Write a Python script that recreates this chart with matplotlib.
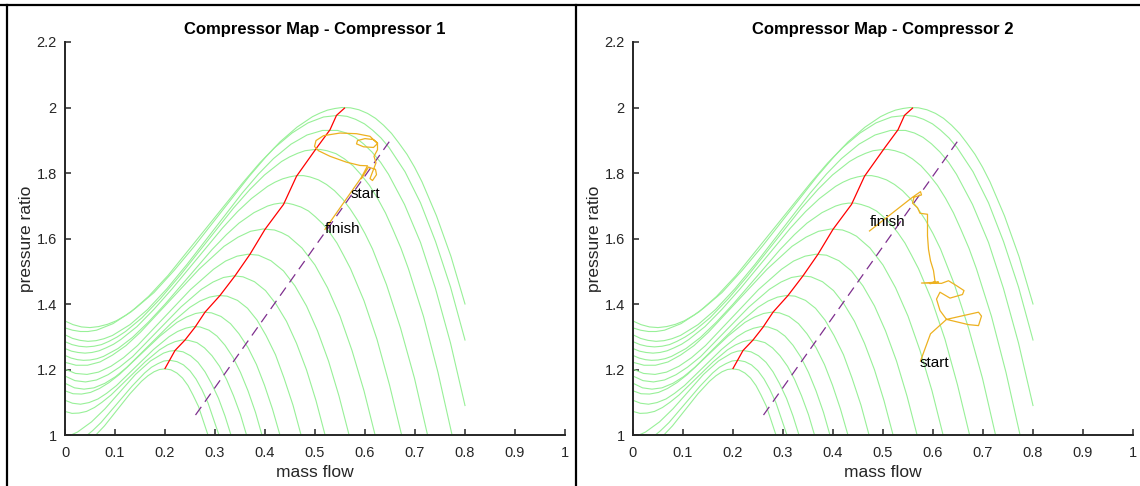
import numpy as np
import matplotlib
matplotlib.use("Agg")
import matplotlib.pyplot as plt
from matplotlib.lines import Line2D

plt.rcParams["font.family"] = ["Liberation Sans", "DejaVu Sans"]

# speed lines of the map (mass flow, pressure ratio), top speed first
speed_flow = [
    [0, .016, .033, .050, .067, .085, .103, .122, .141, .178, .218, .259, .368, .401, .430, .464, .495, .510, .525, .540, .554, .571, .588, .605, .621, .637, .653, .668, .684, .699, .714, .743, .772, .800],
    [0, .015, .031, .046, .063, .096, .132, .167, .206, .356, .389, .419, .454, .486, .517, .546, .564, .581, .599, .615, .632, .648, .680, .711, .741, .771, .800],
    [0, .015, .030, .046, .062, .078, .095, .130, .165, .204, .244, .354, .387, .417, .452, .484, .515, .545, .563, .580, .597, .614, .631, .647, .679, .711, .741, .771, .800],
    [0, .014, .028, .043, .058, .073, .088, .104, .121, .154, .191, .230, .337, .370, .399, .433, .449, .465, .480, .495, .510, .524, .542, .559, .576, .592, .609, .625, .641, .656, .672, .687, .717, .746, .775],
    [0, .013, .026, .040, .054, .068, .082, .097, .112, .144, .178, .214, .315, .345, .373, .405, .420, .435, .449, .463, .477, .490, .507, .523, .539, .555, .570, .585, .600, .615, .643, .671, .699, .726],
    [0, .012, .025, .037, .050, .064, .077, .106, .135, .167, .201, .294, .323, .348, .378, .405, .418, .431, .444, .456, .472, .487, .501, .516, .530, .544, .557, .571, .598, .624, .649, .674],
    [0, .022, .045, .070, .095, .122, .151, .268, .318, .346, .371, .396, .419, .433, .447, .474, .500, .525, .550, .574, .598, .621],
    [0, .021, .044, .067, .092, .117, .145, .251, .297, .321, .344, .366, .387, .412, .437, .460, .483, .505, .527, .548, .569],
    [0, .020, .041, .063, .086, .109, .135, .232, .273, .296, .317, .337, .356, .379, .401, .422, .443, .463, .483, .502, .521],
    [0, .019, .038, .058, .080, .101, .124, .213, .250, .270, .289, .307, .324, .345, .365, .384, .402, .421, .438, .456, .473],
    [0, .016, .033, .051, .069, .088, .109, .190, .224, .243, .261, .277, .293, .312, .331, .348, .366, .383, .399, .415, .431],
    [0, .015, .031, .048, .066, .083, .103, .177, .208, .225, .241, .256, .270, .288, .304, .320, .336, .351, .366, .381, .395],
    [0, .014, .028, .043, .059, .074, .092, .160, .189, .205, .220, .234, .247, .264, .279, .294, .309, .323, .337, .351, .364],
    [0, .012, .025, .053, .080, .141, .171, .197, .209, .220, .236, .251, .266, .280, .293, .307, .320, .333],
    [.040, .055, .072, .134, .159, .173, .186, .198, .210, .224, .237, .250, .262, .274, .286, .309],
    [.058, .079, .130, .153, .166, .178, .189, .200, .212, .224, .235, .246, .256, .267, .287],
]
speed_ratio = [
    [1.348, 1.337, 1.330, 1.328, 1.331, 1.338, 1.349, 1.366, 1.387, 1.435, 1.502, 1.577, 1.789, 1.848, 1.895, 1.940, 1.972, 1.983, 1.992, 1.997, 2.000, 1.999, 1.993, 1.982, 1.967, 1.946, 1.921, 1.891, 1.857, 1.818, 1.773, 1.669, 1.545, 1.400],
    [1.327, 1.320, 1.316, 1.316, 1.320, 1.340, 1.376, 1.423, 1.487, 1.771, 1.830, 1.877, 1.922, 1.953, 1.971, 1.976, 1.973, 1.964, 1.950, 1.931, 1.907, 1.878, 1.804, 1.709, 1.591, 1.452, 1.290],
    [1.306, 1.295, 1.289, 1.286, 1.288, 1.294, 1.304, 1.337, 1.383, 1.447, 1.521, 1.738, 1.797, 1.844, 1.888, 1.916, 1.930, 1.930, 1.922, 1.909, 1.889, 1.864, 1.833, 1.796, 1.704, 1.588, 1.447, 1.281, 1.090],
    [1.285, 1.276, 1.271, 1.269, 1.271, 1.276, 1.286, 1.299, 1.316, 1.358, 1.417, 1.487, 1.693, 1.750, 1.794, 1.835, 1.849, 1.860, 1.868, 1.871, 1.872, 1.868, 1.859, 1.843, 1.822, 1.795, 1.762, 1.723, 1.678, 1.627, 1.570, 1.507, 1.362, 1.191, 0.994],
    [1.264, 1.256, 1.252, 1.250, 1.252, 1.257, 1.266, 1.277, 1.292, 1.331, 1.384, 1.446, 1.632, 1.682, 1.722, 1.759, 1.772, 1.782, 1.788, 1.792, 1.792, 1.788, 1.779, 1.765, 1.746, 1.721, 1.691, 1.656, 1.615, 1.568, 1.459, 1.327, 1.173, 0.994],
    [1.243, 1.235, 1.230, 1.228, 1.229, 1.233, 1.240, 1.264, 1.298, 1.345, 1.401, 1.566, 1.612, 1.647, 1.679, 1.699, 1.705, 1.708, 1.708, 1.704, 1.696, 1.684, 1.666, 1.644, 1.617, 1.586, 1.549, 1.508, 1.410, 1.292, 1.153, 0.995],
    [1.222, 1.213, 1.213, 1.223, 1.244, 1.273, 1.314, 1.506, 1.576, 1.604, 1.622, 1.629, 1.626, 1.618, 1.607, 1.571, 1.519, 1.450, 1.363, 1.258, 1.135, 0.995],
    [1.201, 1.188, 1.185, 1.192, 1.210, 1.236, 1.273, 1.444, 1.506, 1.531, 1.546, 1.552, 1.549, 1.532, 1.501, 1.455, 1.394, 1.318, 1.226, 1.119, 0.995],
    [1.180, 1.166, 1.162, 1.168, 1.184, 1.207, 1.239, 1.391, 1.445, 1.467, 1.481, 1.486, 1.483, 1.468, 1.441, 1.400, 1.347, 1.280, 1.199, 1.105, 0.995],
    [1.158, 1.144, 1.140, 1.144, 1.158, 1.178, 1.207, 1.342, 1.390, 1.409, 1.421, 1.426, 1.424, 1.411, 1.387, 1.351, 1.304, 1.245, 1.174, 1.091, 0.995],
    [1.135, 1.126, 1.125, 1.130, 1.142, 1.160, 1.185, 1.302, 1.344, 1.360, 1.371, 1.375, 1.373, 1.362, 1.340, 1.309, 1.267, 1.215, 1.152, 1.079, 0.994],
    [1.106, 1.097, 1.094, 1.099, 1.110, 1.127, 1.151, 1.261, 1.300, 1.316, 1.326, 1.331, 1.330, 1.320, 1.302, 1.274, 1.237, 1.191, 1.135, 1.069, 0.994],
    [1.072, 1.066, 1.067, 1.072, 1.084, 1.100, 1.122, 1.223, 1.260, 1.275, 1.285, 1.290, 1.289, 1.282, 1.266, 1.242, 1.210, 1.170, 1.120, 1.062, 0.995],
    [0.996, 1.000, 1.009, 1.040, 1.080, 1.185, 1.226, 1.250, 1.256, 1.258, 1.254, 1.242, 1.222, 1.193, 1.157, 1.112, 1.058, 0.995],
    [0.994, 1.013, 1.038, 1.149, 1.189, 1.207, 1.218, 1.226, 1.228, 1.224, 1.214, 1.196, 1.171, 1.138, 1.098, 0.995],
    [0.994, 1.028, 1.126, 1.164, 1.181, 1.193, 1.200, 1.202, 1.199, 1.189, 1.174, 1.151, 1.122, 1.087, 0.995],
]

# surge line and the dashed reference line
surge_flow = [0.200, 0.220, 0.240, 0.260, 0.280, 0.310, 0.340, 0.370, 0.400, 0.437, 0.463, 0.503, 0.530, 0.543, 0.559]
surge_ratio = [1.203, 1.258, 1.290, 1.329, 1.375, 1.426, 1.486, 1.552, 1.628, 1.704, 1.790, 1.876, 1.932, 1.976, 1.998]
choke_flow = [0.261, 0.651]
choke_ratio = [1.061, 1.901]

# operating point trajectories, start -> finish
traj1_flow = [0.593, 0.607, 0.621, 0.623, 0.615, 0.610, 0.622, 0.618, 0.625, 0.625, 0.617, 0.600, 0.585,
              0.583, 0.597, 0.617, 0.625, 0.610, 0.583, 0.550, 0.517, 0.502, 0.499, 0.507, 0.530, 0.563,
              0.590, 0.605, 0.593, 0.520]
traj1_ratio = [1.783, 1.818, 1.811, 1.795, 1.777, 1.783, 1.831, 1.851, 1.871, 1.892, 1.902, 1.905, 1.899,
               1.889, 1.880, 1.878, 1.890, 1.912, 1.920, 1.922, 1.914, 1.899, 1.881, 1.868, 1.851, 1.833,
               1.823, 1.822, 1.787, 1.628]
traj2_flow = [0.575, 0.595, 0.627, 0.691, 0.697, 0.691, 0.671, 0.627, 0.614, 0.607, 0.614, 0.634, 0.659,
              0.662, 0.647, 0.631, 0.617, 0.577, 0.611, 0.594, 0.604, 0.601, 0.595, 0.591, 0.589, 0.589,
              0.574, 0.569, 0.559, 0.562, 0.577, 0.575, 0.559, 0.473]
traj2_ratio = [1.226, 1.309, 1.353, 1.375, 1.363, 1.334, 1.337, 1.353, 1.380, 1.415, 1.436, 1.418, 1.429,
               1.441, 1.456, 1.471, 1.463, 1.464, 1.467, 1.462, 1.469, 1.502, 1.532, 1.567, 1.608, 1.674,
               1.677, 1.694, 1.708, 1.726, 1.733, 1.743, 1.726, 1.623]

start_pos = [(0.572, 1.736), (0.574, 1.220)]
finish_pos = [(0.520, 1.629), (0.473, 1.651)]

xticks = [0, 0.1, 0.2, 0.3, 0.4, 0.5, 0.6, 0.7, 0.8, 0.9, 1]
xtick_labels = ["0", "0.1", "0.2", "0.3", "0.4", "0.5", "0.6", "0.7", "0.8", "0.9", "1"]
yticks = [1, 1.2, 1.4, 1.6, 1.8, 2, 2.2]
ytick_labels = ["1", "1.2", "1.4", "1.6", "1.8", "2", "2.2"]

GREEN = "#98F098"
ORANGE = "#EDB120"
PURPLE = "#7E2F8E"
AX = "#262626"

fig = plt.figure(figsize=(11.4, 4.86), dpi=100)
axes = [fig.add_axes([65 / 1140, 51 / 486, 500 / 1140, 393 / 486]),
        fig.add_axes([633 / 1140, 51 / 486, 500 / 1140, 393 / 486])]
trajs = [(traj1_flow, traj1_ratio), (traj2_flow, traj2_ratio)]

for n, ax in enumerate(axes):
    for xs, ys in zip(speed_flow, speed_ratio):
        ax.plot(xs, ys, color=GREEN, lw=0.8)
    ax.plot(surge_flow, surge_ratio, color="red", lw=0.9)
    ax.plot(choke_flow, choke_ratio, color=PURPLE, lw=0.9, ls=(0, (8, 5)))
    ax.plot(trajs[n][0], trajs[n][1], color=ORANGE, lw=0.9)
    ax.text(*start_pos[n], "start", fontsize=11, va="center", ha="left")
    ax.text(*finish_pos[n], "finish", fontsize=11, va="center", ha="left")

    ax.set_xlim(0, 1)
    ax.set_ylim(1, 2.2)
    ax.set_xticks(xticks)
    ax.set_xticklabels(xtick_labels)
    ax.set_yticks(yticks)
    ax.set_yticklabels(ytick_labels)
    ax.spines[["top", "right"]].set_visible(False)
    for s in ["left", "bottom"]:
        ax.spines[s].set_linewidth(1.4)
        ax.spines[s].set_color(AX)
    ax.tick_params(direction="in", length=4, width=1.1, colors=AX, labelsize=10.5)
    ax.tick_params(axis="x", pad=8)
    ax.tick_params(axis="y", pad=6)
    ax.set_xlabel("mass flow", fontsize=12.5, color=AX, labelpad=3.5)
    ax.set_ylabel("pressure ratio", fontsize=12.5, color=AX, labelpad=1.5)
    ax.set_title(f"Compressor Map - Compressor {n + 1}", fontsize=12, fontweight="bold", pad=6)

# panel frame lines
for xs, ys in [([0, 1], [481 / 486, 481 / 486]),
               ([7 / 1140, 7 / 1140], [0, 481 / 486]),
               ([576 / 1140, 576 / 1140], [0, 481 / 486])]:
    fig.add_artist(Line2D(xs, ys, color="black", lw=1.6))

fig.savefig("out.png", dpi=100)
